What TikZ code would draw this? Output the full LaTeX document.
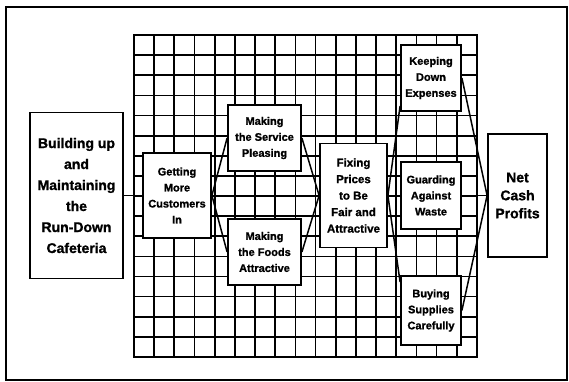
\documentclass[tikz,border=0pt]{standalone}
\usepackage{fontspec}
\setmainfont{Liberation Sans}[BoldFeatures={FakeBold=1.2}]
\begin{document}
\begin{tikzpicture}[x=1pt, y=1pt,
    box/.style={draw, fill=white, line width=1.8pt, align=center, inner sep=0pt,
      font=\bfseries\fontsize{11}{16}\selectfont},
    link/.style={line width=1.5pt}]
    \useasboundingbox (0,0) rectangle (569,382);
    \draw[line width=2.4pt] (6,2) rectangle (567,375);
    \draw[line width=1.7pt, xstep=20.17pt, ystep=20.12pt, shift={(134,25)}] (0,0) grid (343,322);
    \draw[line width=1.7pt] (134,25) rectangle (477,347);
    \node (build) [box, font=\bfseries\fontsize{14}{21}\selectfont, minimum width=93pt, minimum height=166pt] at (76.5,186.5) {Building up\\and\\Maintaining\\the\\Run-Down\\Cafeteria};
    \node (get) [box, minimum width=68pt, minimum height=85pt, right of=build, node distance=100.5pt] {Getting\\More\\Customers\\In};
    \node (serv) [box, minimum width=73pt, minimum height=66pt] at (264.5,244) {Making\\the Service\\Pleasing};
    \node (food) [box, minimum width=73pt, minimum height=66pt] at (264.5,130) {Making\\the Foods\\Attractive};
    \node (fix) [box, font=\bfseries\fontsize{11.5}{16.5}\selectfont, minimum width=67pt, minimum height=104pt, right of=get, node distance=176.5pt] {Fixing\\Prices\\to Be\\Fair and\\Attractive};
    \node (guard) [box, minimum width=60pt, minimum height=67pt, right of=fix, node distance=77.5pt] {Guarding\\Against\\Waste};
    \node (keep) [box, minimum width=60pt, minimum height=66pt, above of=guard, node distance=117.5pt] {Keeping\\Down\\Expenses};
    \node (buy) [box, minimum width=60pt, minimum height=69pt, below of=guard, node distance=115pt] {Buying\\Supplies\\Carefully};
    \node (net) [box, font=\bfseries\fontsize{14}{18}\selectfont, minimum width=59pt, minimum height=123pt, right of=guard, node distance=86.5pt] {Net\\Cash\\Profits};
    \draw[link] (build) -- (get);
    \draw[link] (get.east) -- (serv.west);
    \draw[link] (get.east) -- (food.west);
    \draw[link] (serv.east) -- (fix.west);
    \draw[link] (food.east) -- (fix.west);
    \draw[link] (fix.east) -- ([yshift=6pt]keep.south west);
    \draw[link] (fix) -- (guard);
    \draw[link] (fix.east) -- ([yshift=-7pt]buy.north west);
    \draw[link] (keep.east) -- (net.west);
    \draw[link] (guard) -- (net);
    \draw[link] (buy.east) -- (net.west);
  \end{tikzpicture}
\end{document}
